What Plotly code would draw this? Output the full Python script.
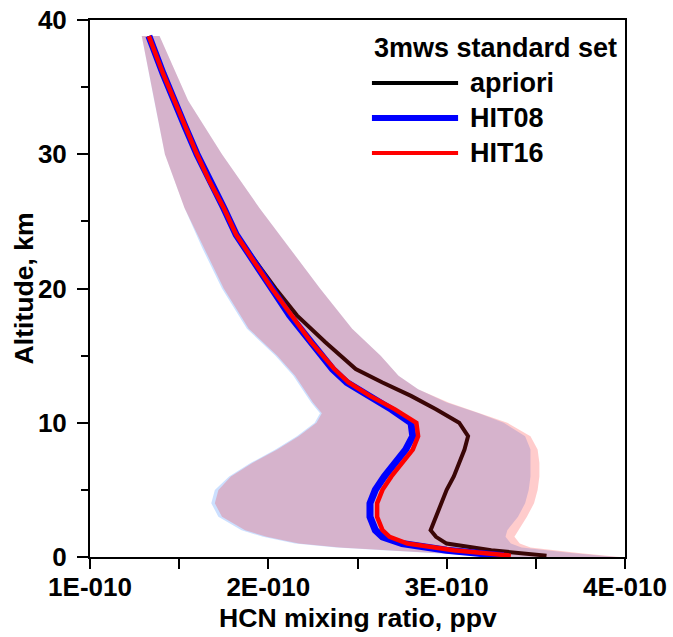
import plotly.graph_objects as go

# ---------------- data (mixing ratios in units of 1E-10 ppv) ----------------
alt_lines = [0.1, 0.5, 1.0, 1.5, 2.0, 3.0, 4.0, 5.0, 6.0, 7.0, 8.0, 9.0, 10.0, 11.0,
             12.0, 13.0, 14.0, 16.0, 18.0, 20.0, 22.0, 24.0, 26.0, 28.0, 30.0,
             32.0, 34.0, 36.0, 38.8]
apriori = [3.56, 3.25, 3.00, 2.94, 2.91, 2.94, 2.97, 3.00, 3.04, 3.07, 3.10, 3.12, 3.07, 2.94,
           2.80, 2.64, 2.49, 2.32, 2.16, 2.04, 1.93, 1.82, 1.75, 1.67, 1.60,
           1.535, 1.47, 1.41, 1.33]
hit08 = [3.32, 3.00, 2.75, 2.64, 2.60, 2.57, 2.57, 2.60, 2.65, 2.71, 2.77, 2.81, 2.80, 2.69,
         2.56, 2.44, 2.36, 2.24, 2.12, 2.02, 1.92, 1.82, 1.75, 1.67, 1.60,
         1.535, 1.47, 1.41, 1.33]
hit16 = [3.36, 3.04, 2.78, 2.68, 2.64, 2.61, 2.61, 2.64, 2.69, 2.75, 2.81, 2.84, 2.83, 2.71,
         2.57, 2.45, 2.37, 2.24, 2.13, 2.02, 1.92, 1.82, 1.75, 1.67, 1.60,
         1.535, 1.47, 1.41, 1.33]

alt_band = [0.0, 0.3, 0.7, 1.0, 1.5, 2.0, 3.0, 4.0, 5.0, 6.0, 7.0, 8.0, 9.0, 10.0,
            10.7, 11.5, 12.5, 13.5, 15.0, 17.0, 20.0, 23.0, 26.0, 30.0, 34.0, 38.8]
hit08_low = [3.30, 2.92, 2.38, 2.15, 1.97, 1.85, 1.72, 1.68, 1.70, 1.78, 1.90, 2.04, 2.16, 2.26,
             2.29, 2.24, 2.19, 2.14, 2.04, 1.88, 1.74, 1.63, 1.53, 1.42, 1.36, 1.29]
hit08_high = [3.95, 3.70, 3.42, 3.36, 3.33, 3.34, 3.40, 3.44, 3.46, 3.47, 3.47, 3.47, 3.44, 3.32,
              3.18, 3.00, 2.84, 2.73, 2.63, 2.47, 2.29, 2.12, 1.95, 1.74, 1.55, 1.39]
hit16_low = [3.32, 2.94, 2.40, 2.17, 1.99, 1.87, 1.74, 1.70, 1.72, 1.79, 1.91, 2.05, 2.17, 2.27,
             2.30, 2.25, 2.20, 2.15, 2.05, 1.89, 1.75, 1.64, 1.53, 1.42, 1.36, 1.29]
hit16_high = [3.97, 3.74, 3.47, 3.41, 3.38, 3.40, 3.45, 3.49, 3.51, 3.52, 3.52, 3.51, 3.47, 3.34,
              3.19, 3.01, 2.84, 2.73, 2.63, 2.47, 2.29, 2.12, 1.95, 1.74, 1.55, 1.39]

x_ticks = [1e-10, 2e-10, 3e-10, 4e-10]
x_ticklabels = ["1E-010", "2E-010", "3E-010", "4E-010"]
y_ticks = [0, 10, 20, 30, 40]

x_title = "HCN mixing ratio, ppv"
y_title = "Altitude, km"
legend_title = "3mws standard set"
series_names = ["apriori", "HIT08", "HIT16"]

SCALE = 1e-10
FONT = "Liberation Sans, Arial, sans-serif"

def sc(v):
    return [a * SCALE for a in v]

fig = go.Figure()

# uncertainty bands
fig.add_trace(go.Scatter(
    x=sc(hit08_low + hit08_high[::-1]), y=alt_band + alt_band[::-1],
    fill="toself", fillcolor="rgba(0,100,255,0.20)", line=dict(width=0),
    mode="lines", hoverinfo="skip", showlegend=False))
fig.add_trace(go.Scatter(
    x=sc(hit16_low + hit16_high[::-1]), y=alt_band + alt_band[::-1],
    fill="toself", fillcolor="rgba(255,0,0,0.20)", line=dict(width=0),
    mode="lines", hoverinfo="skip", showlegend=False))

# profiles
fig.add_trace(go.Scatter(x=sc(apriori), y=alt_lines, mode="lines", name=series_names[0],
                         line=dict(color="#3a0606", width=4), showlegend=False))
fig.add_trace(go.Scatter(x=sc(hit08), y=alt_lines, mode="lines", name=series_names[1],
                         line=dict(color="#0000ff", width=7), showlegend=False))
fig.add_trace(go.Scatter(x=sc(hit16), y=alt_lines, mode="lines", name=series_names[2],
                         line=dict(color="#ff0000", width=4.5), showlegend=False))

# manual legend (long line samples as in the original)
leg_colors = ["#000000", "#0000ff", "#ff0000"]
leg_widths = [4, 6, 4]
leg_y = [0.8827, 0.8175, 0.7523]
fig.add_annotation(xref="paper", yref="paper", x=0.527, y=0.948, text=legend_title,
                   showarrow=False, xanchor="left", yanchor="middle",
                   font=dict(family=FONT, size=27, color="black", weight="bold"))
for name, c, w, yy in zip(series_names, leg_colors, leg_widths, leg_y):
    fig.add_shape(type="line", xref="paper", yref="paper", x0=0.527, x1=0.688, y0=yy, y1=yy,
                  line=dict(color=c, width=w))
    fig.add_annotation(xref="paper", yref="paper", x=0.7065, y=yy, text=name,
                       showarrow=False, xanchor="left", yanchor="middle",
                       font=dict(family=FONT, size=27, color="black", weight="bold"))

# axis titles as annotations for exact placement
fig.add_annotation(xref="paper", yref="paper", x=0.5, y=-0.113, text=x_title,
                   showarrow=False, xanchor="center", yanchor="middle",
                   font=dict(family=FONT, size=26.6, color="black", weight="bold"))
fig.add_annotation(xref="paper", yref="paper", x=-0.1235, y=0.5, text=y_title,
                   textangle=-90, showarrow=False, xanchor="center", yanchor="middle",
                   font=dict(family=FONT, size=26.6, color="black", weight="bold"))

axis_common = dict(showline=True, linecolor="black", linewidth=2, mirror=True,
                   showgrid=False, zeroline=False, ticks="outside", tickcolor="black",
                   tickwidth=2, automargin=False,
                   tickfont=dict(family=FONT, size=26, color="black", weight="bold"))

fig.update_xaxes(range=[1e-10, 4e-10], tickvals=x_ticks, ticktext=x_ticklabels,
                 ticklen=10, ticklabelstandoff=-4,
                 minor=dict(dtick=0.5e-10, tick0=1e-10, ticks="outside", ticklen=10,
                            tickwidth=2, tickcolor="black"),
                 **axis_common)
fig.update_yaxes(range=[0, 40], tickvals=y_ticks, ticklen=11, ticklabelstandoff=5,
                 minor=dict(dtick=5, tick0=0, ticks="outside", ticklen=7,
                            tickwidth=2, tickcolor="black"),
                 **axis_common)

fig.update_layout(width=673, height=637, margin=dict(l=90, r=48, t=20, b=80),
                  plot_bgcolor="white", paper_bgcolor="white", showlegend=False)

fig.write_html("out.html")
